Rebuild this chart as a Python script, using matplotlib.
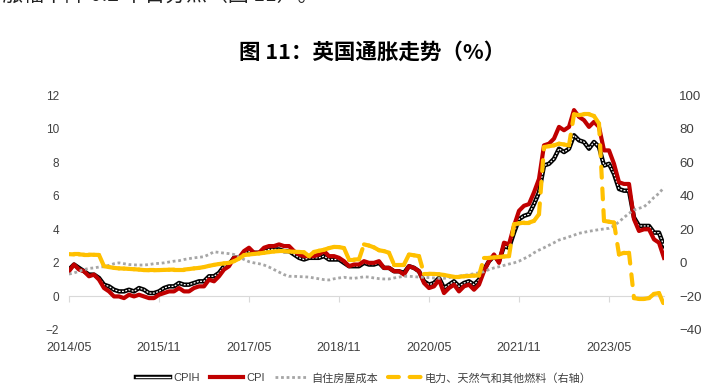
import numpy as np
import pandas as pd
import matplotlib
matplotlib.use("Agg")
import matplotlib.pyplot as plt
from matplotlib.collections import LineCollection
from matplotlib.lines import Line2D

plt.rcParams['font.family'] = ['Liberation Sans', 'Noto Sans CJK SC', 'DejaVu Sans']

# 月度数据 2014/05 - 2024/04
months = pd.date_range('2014-05-01', periods=120, freq='MS')

cpih = [
    1.6, 1.9, 1.7, 1.5, 1.3, 1.3, 1.1, 0.7,
    0.6, 0.4, 0.3, 0.3, 0.4, 0.3, 0.5, 0.4, 0.2, 0.2, 0.3, 0.5,
    0.6, 0.6, 0.8, 0.7, 0.7, 0.8, 0.9, 0.9, 1.2, 1.2, 1.4, 1.8,
    1.9, 2.3, 2.3, 2.6, 2.7, 2.6, 2.6, 2.7, 2.8, 2.8, 2.8, 2.7,
    2.7, 2.5, 2.3, 2.2, 2.3, 2.3, 2.3, 2.4, 2.2, 2.2, 2.2, 2.0,
    1.8, 1.8, 1.8, 2.0, 1.9, 1.9, 2.0, 1.7, 1.7, 1.5, 1.5, 1.4,
    1.8, 1.7, 1.5, 0.9, 0.7, 0.8, 1.1, 0.5, 0.7, 0.9, 0.6, 0.8,
    0.9, 0.7, 1.0, 1.6, 2.1, 2.4, 2.1, 3.0, 2.9, 3.8, 4.6, 4.8,
    4.9, 5.5, 6.2, 7.8, 7.9, 8.2, 8.8, 8.6, 8.8, 9.6, 9.3, 9.2,
    8.8, 9.2, 8.9, 7.8, 7.9, 7.3, 6.4, 6.3, 6.3, 4.7, 4.2, 4.2,
    4.2, 3.8, 3.8, 3.0,
]

cpi = [
    1.5, 1.9, 1.6, 1.5, 1.2, 1.3, 1.0, 0.5,
    0.3, 0.0, 0.0, -0.1, 0.1, 0.0, 0.1, 0.0, -0.1, -0.1, 0.1, 0.2,
    0.3, 0.3, 0.5, 0.3, 0.3, 0.5, 0.6, 0.6, 1.0, 0.9, 1.2, 1.6,
    1.8, 2.3, 2.3, 2.7, 2.9, 2.6, 2.6, 2.9, 3.0, 3.0, 3.1, 3.0,
    3.0, 2.7, 2.5, 2.4, 2.4, 2.4, 2.5, 2.7, 2.4, 2.4, 2.3, 2.1,
    1.8, 1.9, 1.9, 2.1, 2.0, 2.0, 2.1, 1.7, 1.7, 1.5, 1.5, 1.3,
    1.8, 1.7, 1.5, 0.8, 0.5, 0.6, 1.0, 0.2, 0.5, 0.7, 0.3, 0.6,
    0.7, 0.4, 0.7, 1.5, 2.1, 2.5, 2.0, 3.2, 3.1, 4.2, 5.1, 5.4,
    5.5, 6.2, 7.0, 9.0, 9.1, 9.4, 10.1, 9.9, 10.1, 11.1, 10.7, 10.5,
    10.1, 10.4, 10.1, 8.7, 8.7, 7.9, 6.8, 6.7, 6.7, 4.6, 3.9, 4.0,
    4.0, 3.4, 3.2, 2.3,
]

# 自住房屋成本
ooh = [
    1.33, 1.4, 1.5, 1.6, 1.67, 1.7, 1.75, 1.77, 1.85, 1.95, 2.0, 1.95,
    1.9, 1.88, 1.87, 1.87, 1.9, 1.95, 1.97, 2.0, 2.05, 2.1, 2.13, 2.2,
    2.25, 2.3, 2.33, 2.37, 2.5, 2.66, 2.62, 2.58, 2.55, 2.5, 2.35, 2.2,
    2.07, 2.0, 1.95, 1.87, 1.75, 1.6, 1.45, 1.3, 1.2, 1.2, 1.18, 1.17,
    1.15, 1.1, 1.05, 1.0, 0.98, 1.05, 1.1, 1.14, 1.1, 1.08, 1.12, 1.17,
    1.15, 1.1, 1.06, 1.04, 1.04, 1.1, 1.15, 1.2, 1.2, 1.18, 1.15, 1.14,
    1.12, 1.1, 1.08, 1.08, 1.12, 1.18, 1.21, 1.25, 1.3, 1.35, 1.41, 1.47,
    1.6, 1.7, 1.77, 1.85, 1.93, 2.0, 2.1, 2.25, 2.4, 2.6, 2.76, 2.9,
    3.05, 3.2, 3.36, 3.45, 3.55, 3.65, 3.76, 3.82, 3.88, 3.93, 3.98, 4.02,
    4.06, 4.2, 4.45, 4.7, 4.95, 5.15, 5.25, 5.34, 5.6, 5.9, 6.14, 6.5,
]

# 电力、天然气和其他燃料（右轴）
energy = [
    5.2, 5.0, 5.0, 4.9, 4.9, 4.8, 4.7,
    -2.0, -2.5, -3.0, -3.3, -3.4, -3.6,
    -3.8, -4.0, -4.3, -4.4, -4.4, -4.3,
    -4.2, -4.1, -4.0, -4.0, -4.0, -3.7,
    -3.3, -3.0, -2.5, -1.8, -1.2, -0.7,
    -0.3, 0.0, 1.0, 2.5, 4.6, 5.0,
    5.3, 5.6, 6.0, 6.4, 6.8, 7.0,
    7.0, 6.8, 6.6, 6.5, 6.3, 4.0,
    6.5, 7.2, 7.8, 8.8, 9.5, 9.4,
    8.8,
    2.0, 2.0, 2.1,
    11.0, 10.3, 9.2, 7.5, 7.0, 6.0,
    -1.0, -1.0, -1.0,
    5.0, 4.5, 4.0,
    -6.5, -6.5, -6.6, -6.8, -7.2, -7.8, -8.3, -8.3, -8.0, -7.8, -7.6, -7.5,
    3.0, 3.0, 3.2, 3.5, 3.8, 4.0,
    23.0, 23.5, 24.0, 24.0, 25.0, 29.0,
    69.0, 69.5, 70.0, 71.0, 70.5, 70.0,
    88.5, 88.0, 88.5, 88.5, 87.5, 83.0,
    25.0, 24.5, 24.0,
    5.0, 6.0, 6.0,
    -21.0, -21.5, -21.5, -21.0,
    -18.5, -18.0, -25.0,
]

tick_idx = list(range(0, 120, 18))
tick_labels = [months[i].strftime('%Y/%m') for i in tick_idx]

RED = '#C00000'
GOLD = '#FFC000'
GREY = '#A6A6A6'
TXT = '#404040'

x = np.arange(len(months))

fig = plt.figure(figsize=(7.28, 3.85), dpi=100)
ax = fig.add_axes([69 / 728, 1 - 330 / 385, (664 - 69) / 728, 235 / 385])

# CPIH：黑色双线
ax.plot(x, cpih, color='black', lw=3.2, solid_joinstyle='round', zorder=2)
ax.plot(x, cpih, color='white', lw=0.9, ls=(0, (1.5, 1.2)), zorder=2.1)
ax.plot(x, cpi, color=RED, lw=3.0, solid_joinstyle='round', zorder=3)
ax.plot(x, ooh, color=GREY, lw=2.0, ls=(0, (1, 1)), zorder=3.5)

ax.set_xlim(0, len(x) - 1)
ax.set_ylim(-2, 12)
ax.set_yticks(np.arange(-2, 13, 2))
ax.set_xticks(tick_idx)
ax.set_xticklabels(tick_labels)

for s in ['top', 'left', 'right']:
    ax.spines[s].set_visible(False)
ax.spines['bottom'].set_position(('data', 0))
ax.spines['bottom'].set_color('#D9D9D9')
ax.tick_params(axis='x', length=4.5, color='#D9D9D9', pad=28,
               labelsize=9, labelcolor=TXT)
ax.tick_params(axis='y', length=0, pad=7, labelsize=8.5, labelcolor=TXT)

# 右轴：能源，Excel 式虚线（每段重新起笔）
ax2 = ax.twinx()
ax2.set_ylim(-40, 100)
ax2.set_yticks(np.arange(-40, 101, 20))
for s in ax2.spines.values():
    s.set_visible(False)
ax2.tick_params(axis='y', length=0, pad=11, labelsize=9.5, labelcolor=TXT)

segs = [[(x[i], energy[i]), (x[i + 1], energy[i + 1])] for i in range(len(x) - 1)]
lc = LineCollection(segs, colors=GOLD, linewidths=3.0, linestyles=[(0, (2.6, 2.6))])
lc.set_capstyle('round')
ax2.add_collection(lc)

# 图例
h_cpih = (Line2D([], [], color='black', lw=3.2), Line2D([], [], color='white', lw=1.0))
h_cpi = Line2D([], [], color=RED, lw=3.0)
h_ooh = Line2D([], [], color=GREY, lw=2.0, ls=(0, (1, 1)))
h_en = Line2D([], [], color=GOLD, lw=3.0, ls=(0, (2.6, 2.6)), dash_capstyle='round')
fig.legend([h_cpih, h_cpi, h_ooh, h_en],
           ['CPIH', 'CPI', '自住房屋成本', '电力、天然气和其他燃料（右轴）'],
           loc='center', bbox_to_anchor=(364 / 728, 1 - 378 / 385), ncol=4,
           frameon=False, fontsize=8, handlelength=3.0, handletextpad=0.3,
           columnspacing=0.9, labelcolor=TXT)

fig.text(372 / 728, 1 - 52 / 385, '图 11：英国通胀走势（%）', ha='center', va='center',
         fontsize=15.5, fontweight='bold', family=['Noto Sans CJK SC'])
# 上方被截断的正文
fig.text(318 / 728, 1 + 4 / 385, '涨幅下降 0.2 个百分点（图 11）。', ha='right', va='center',
         fontsize=15, family=['Noto Sans CJK SC'], color='#222222')

fig.savefig('out.png', dpi=100)
